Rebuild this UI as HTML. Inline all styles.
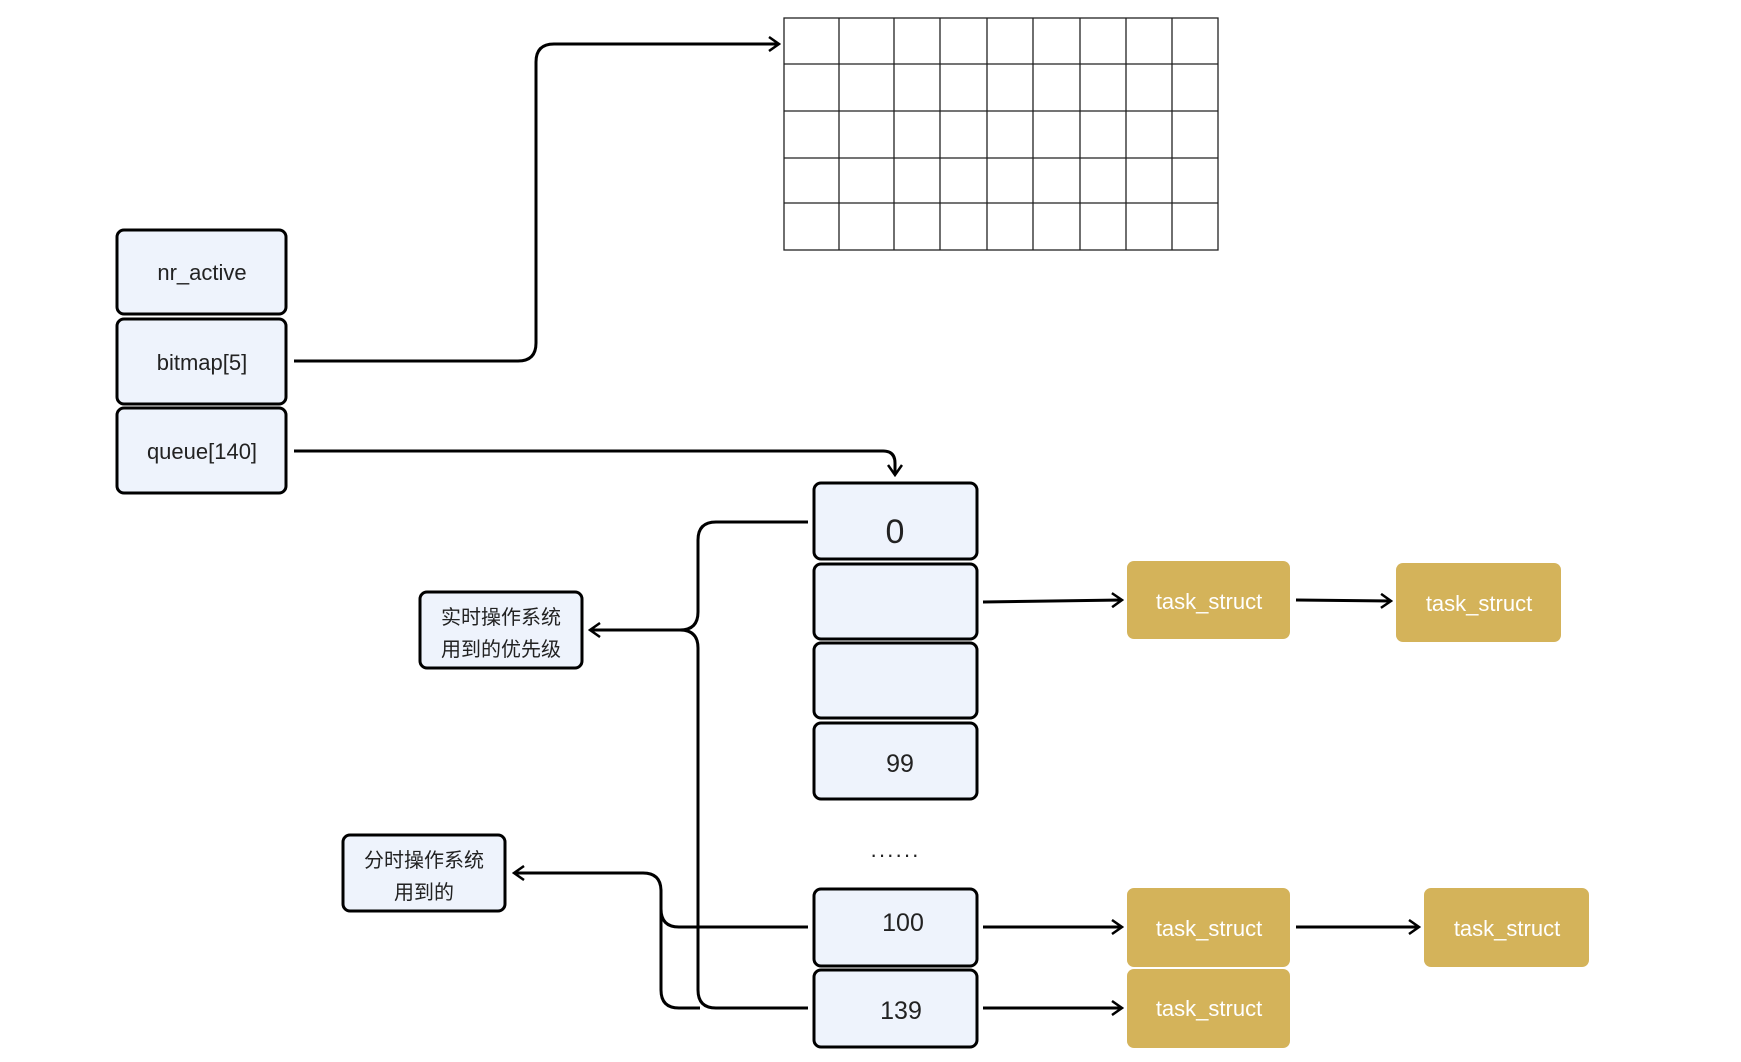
<!DOCTYPE html>
<html><head><meta charset="utf-8"><style>
html,body{margin:0;padding:0;background:#fff;}
svg{display:block;}
text{font-family:"Liberation Sans","Noto Sans CJK SC",sans-serif;}
</style></head><body>
<svg width="1741" height="1062" viewBox="0 0 1741 1062" xmlns="http://www.w3.org/2000/svg">
<defs>
<marker id="a" markerWidth="14" markerHeight="16" refX="12" refY="8" orient="auto" markerUnits="userSpaceOnUse">
<path d="M2,1 L12,8 L2,15" fill="none" stroke="#000" stroke-width="2.5"/>
</marker>
</defs>
<!-- grid -->
<g stroke="#222" stroke-width="1.3" fill="none">
<rect x="784" y="18" width="434" height="232"/>
<line x1="839" y1="18" x2="839" y2="250"/><line x1="894" y1="18" x2="894" y2="250"/>
<line x1="940" y1="18" x2="940" y2="250"/><line x1="987" y1="18" x2="987" y2="250"/>
<line x1="1033" y1="18" x2="1033" y2="250"/><line x1="1080" y1="18" x2="1080" y2="250"/>
<line x1="1126" y1="18" x2="1126" y2="250"/><line x1="1172" y1="18" x2="1172" y2="250"/>
<line x1="784" y1="64" x2="1218" y2="64"/><line x1="784" y1="111" x2="1218" y2="111"/>
<line x1="784" y1="158" x2="1218" y2="158"/><line x1="784" y1="203" x2="1218" y2="203"/>
</g>
<!-- left boxes -->
<g fill="#eef3fc" stroke="#000" stroke-width="3">
<rect x="117" y="230" width="169" height="84" rx="7"/>
<rect x="117" y="319" width="169" height="85" rx="7"/>
<rect x="117" y="408" width="169" height="85" rx="7"/>
<rect x="814" y="483" width="163" height="76" rx="7"/>
<rect x="814" y="564" width="163" height="75" rx="7"/>
<rect x="814" y="643" width="163" height="75" rx="7"/>
<rect x="814" y="723" width="163" height="76" rx="7"/>
<rect x="814" y="889" width="163" height="77" rx="7"/>
<rect x="814" y="970" width="163" height="77" rx="7"/>
<rect x="420" y="592" width="162" height="76" rx="7"/>
<rect x="343" y="835" width="162" height="76" rx="7"/>
</g>
<g font-size="22" fill="#222" text-anchor="middle">
<text x="202" y="280">nr_active</text>
<text x="202" y="370">bitmap[5]</text>
<text x="202" y="459">queue[140]</text>
<text x="895" y="543" font-size="34">0</text>
<text x="900" y="772" font-size="25">99</text>
<text x="903" y="931" font-size="25">100</text>
<text x="901" y="1019" font-size="25">139</text>
<text x="895" y="862" font-size="22" letter-spacing="1">······</text>
<text x="501" y="624" font-size="20">实时操作系统</text>
<text x="501" y="656" font-size="20">用到的优先级</text>
<text x="424" y="867" font-size="20">分时操作系统</text>
<text x="424" y="899" font-size="20">用到的</text>
</g>
<!-- task structs -->
<g fill="#d4b35a">
<rect x="1127" y="561" width="163" height="78" rx="7"/>
<rect x="1396" y="563" width="165" height="79" rx="7"/>
<rect x="1127" y="888" width="163" height="79" rx="7"/>
<rect x="1424" y="888" width="165" height="79" rx="7"/>
<rect x="1127" y="969" width="163" height="79" rx="7"/>
</g>
<g font-size="22" fill="#fff" text-anchor="middle">
<text x="1209" y="609">task_struct</text>
<text x="1479" y="611">task_struct</text>
<text x="1209" y="936">task_struct</text>
<text x="1507" y="936">task_struct</text>
<text x="1209" y="1016">task_struct</text>
</g>
<!-- connectors -->
<g fill="none" stroke="#000" stroke-width="3">
<path d="M294,361 H518 Q536,361 536,343 V62 Q536,44 554,44 H779" marker-end="url(#a)"/>
<path d="M294,451 H883 Q895,451 895,463 V475" marker-end="url(#a)"/>
<path d="M808,522 H716 Q698,522 698,540 V612 Q698,630 680,630 H590" marker-end="url(#a)"/>
<path d="M680,630 Q698,630 698,648 V990 Q698,1008 716,1008 H808"/>
<path d="M808,927 H679 Q661,927 661,909 V891 Q661,873 643,873 H514" marker-end="url(#a)"/>
<path d="M661,900 V990 Q661,1008 679,1008 H700"/>
<path d="M983,602 L1122,600" marker-end="url(#a)"/>
<path d="M1296,600 L1391,601" marker-end="url(#a)"/>
<path d="M983,927 H1122" marker-end="url(#a)"/>
<path d="M1296,927 H1419" marker-end="url(#a)"/>
<path d="M983,1008 H1122" marker-end="url(#a)"/>
</g>
</svg>
</body></html>
